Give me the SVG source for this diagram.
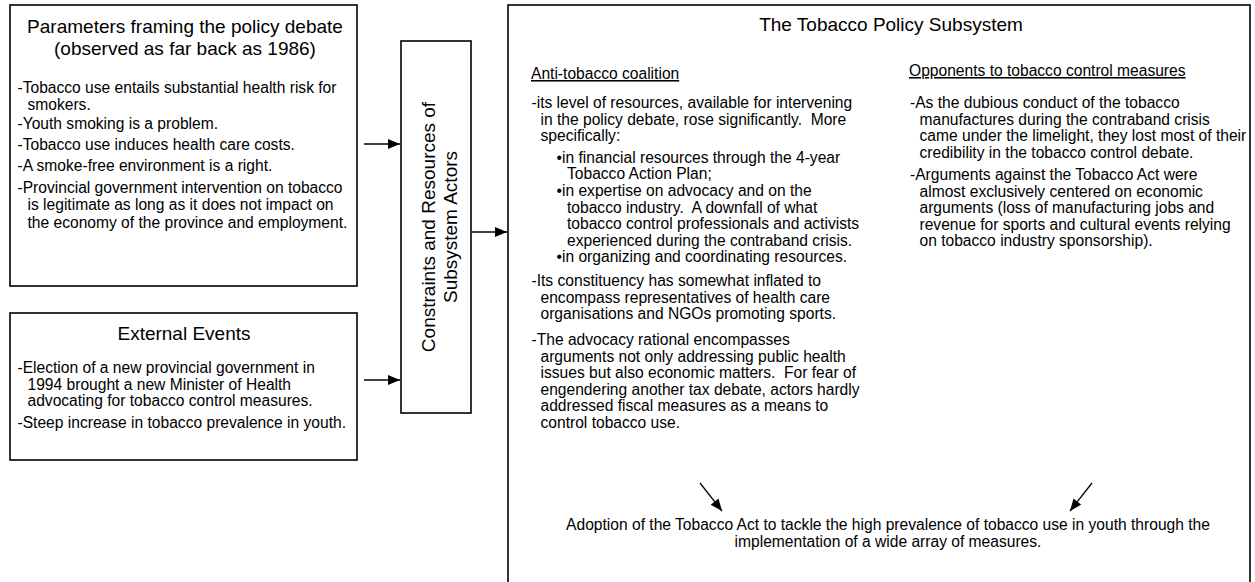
<svg xmlns="http://www.w3.org/2000/svg" width="1255" height="582" viewBox="0 0 1255 582">
<style>
  text { font-family: "Liberation Sans", Arial, sans-serif; fill: #000; }
  .box { fill: #fff; stroke: #000; stroke-width: 1.6; }
  .title { font-size: 19px; text-anchor: middle; }
  .body { font-size: 15.6px; }
  .head { font-size: 15.6px; text-decoration: underline; }
  .conn { stroke: #000; stroke-width: 1.3; fill: none; }
</style>
<defs>
  <marker id="arr" markerUnits="userSpaceOnUse" markerWidth="13" markerHeight="11" refX="12" refY="5" orient="auto">
    <path d="M0,0 L12,5 L0,10 z" fill="#000"/>
  </marker>
</defs>
<rect width="1255" height="582" fill="#fff"/>

<g id="parameters">
  <rect class="box" x="10" y="5" width="347" height="281"/>
  <text class="title" x="185" y="33">Parameters framing the policy debate</text>
  <text class="title" x="185" y="55">(observed as far back as 1986)</text>
  <text class="body" x="17.5" y="93">-Tobacco use entails substantial health risk for</text>
  <text class="body" x="27.5" y="110">smokers.</text>
  <text class="body" x="17.5" y="128.5">-Youth smoking is a problem.</text>
  <text class="body" x="17.5" y="150">-Tobacco use induces health care costs.</text>
  <text class="body" x="17.5" y="171">-A smoke-free environment is a right.</text>
  <text class="body" x="17.5" y="192.5">-Provincial government intervention on tobacco</text>
  <text class="body" x="27.5" y="210">is legitimate as long as it does not impact on</text>
  <text class="body" x="27.5" y="227.5">the economy of the province and employment.</text>
</g>

<g id="external-events">
  <rect class="box" x="10" y="313" width="347" height="147"/>
  <text class="title" x="184" y="340">External Events</text>
  <text class="body" x="17.5" y="373">-Election of a new provincial government in</text>
  <text class="body" x="27.5" y="389.5">1994 brought a new Minister of Health</text>
  <text class="body" x="27.5" y="406">advocating for tobacco control measures.</text>
  <text class="body" x="17.5" y="428">-Steep increase in tobacco prevalence in youth.</text>
</g>

<g id="constraints">
  <rect class="box" x="401" y="41" width="70" height="372"/>
  <g transform="translate(435,227) rotate(-90)">
    <text class="title" x="0" y="0">Constraints and Resources of</text>
    <text class="title" x="0" y="22">Subsystem Actors</text>
  </g>
</g>

<g id="subsystem">
  <rect class="box" x="508" y="5" width="742" height="600"/>
  <text class="title" x="891" y="31">The Tobacco Policy Subsystem</text>

  <text class="head" x="531" y="79">Anti-tobacco coalition</text>
  <text class="body" x="531.5" y="108">-its level of resources, available for intervening</text>
  <text class="body" x="540.5" y="124.5">in the policy debate, rose significantly.&#160; More</text>
  <text class="body" x="540.5" y="141">specifically:</text>
  <text class="body" x="556.5" y="162.5">•in financial resources through the 4-year</text>
  <text class="body" x="567" y="179">Tobacco Action Plan;</text>
  <text class="body" x="556.5" y="196">•in expertise on advocacy and on the</text>
  <text class="body" x="567" y="212.5">tobacco industry.&#160; A downfall of what</text>
  <text class="body" x="567" y="229">tobacco control professionals and activists</text>
  <text class="body" x="567" y="245.5">experienced during the contraband crisis.</text>
  <text class="body" x="556.5" y="262">•in organizing and coordinating resources.</text>
  <text class="body" x="531.5" y="286">-Its constituency has somewhat inflated to</text>
  <text class="body" x="540.5" y="302.5">encompass representatives of health care</text>
  <text class="body" x="540.5" y="319">organisations and NGOs promoting sports.</text>
  <text class="body" x="531.5" y="345">-The advocacy rational encompasses</text>
  <text class="body" x="540.5" y="361.5">arguments not only addressing public health</text>
  <text class="body" x="540.5" y="378">issues but also economic matters.&#160; For fear of</text>
  <text class="body" x="540.5" y="394.5">engendering another tax debate, actors hardly</text>
  <text class="body" x="540.5" y="411">addressed fiscal measures as a means to</text>
  <text class="body" x="540.5" y="427.5">control tobacco use.</text>

  <text class="head" x="909" y="76">Opponents to tobacco control measures</text>
  <text class="body" x="910" y="108">-As the dubious conduct of the tobacco</text>
  <text class="body" x="919.5" y="124.5">manufactures during the contraband crisis</text>
  <text class="body" x="919.5" y="141">came under the limelight, they lost most of their</text>
  <text class="body" x="919.5" y="157.5">credibility in the tobacco control debate.</text>
  <text class="body" x="910" y="180">-Arguments against the Tobacco Act were</text>
  <text class="body" x="919.5" y="196.5">almost exclusively centered on economic</text>
  <text class="body" x="919.5" y="213">arguments (loss of manufacturing jobs and</text>
  <text class="body" x="919.5" y="229.5">revenue for sports and cultural events relying</text>
  <text class="body" x="919.5" y="246">on tobacco industry sponsorship).</text>

  <text class="body" x="888" y="530" text-anchor="middle">Adoption of the Tobacco Act to tackle the high prevalence of tobacco use in youth through the</text>
  <text class="body" x="888" y="547" text-anchor="middle">implementation of a wide array of measures.</text>
</g>

<g id="connectors">
  <line class="conn" x1="364" y1="144" x2="400" y2="144" marker-end="url(#arr)"/>
  <line class="conn" x1="364" y1="380" x2="400" y2="380" marker-end="url(#arr)"/>
  <line class="conn" x1="472" y1="232" x2="507" y2="232" marker-end="url(#arr)"/>
  <line class="conn" x1="700" y1="483" x2="722" y2="511" marker-end="url(#arr)"/>
  <line class="conn" x1="1092" y1="483" x2="1070" y2="511" marker-end="url(#arr)"/>
</g>
</svg>
